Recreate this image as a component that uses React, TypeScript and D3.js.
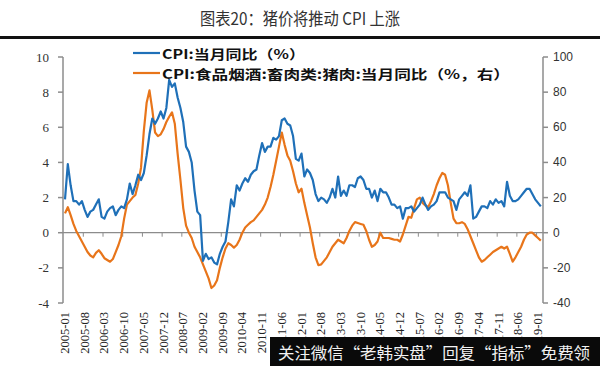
import * as d3 from 'd3';

// monthly values from 2005-01 to 2019-02
const START_YEAR = 2005;

const cpi = [
  1.9, 3.9, 2.7, 1.8, 1.8, 1.6, 1.8, 1.3, 0.9, 1.2, 1.3, 1.6,
  1.9, 0.9, 0.8, 1.2, 1.4, 1.5, 1.0, 1.3, 1.5, 1.4, 1.9, 2.8,
  2.2, 2.7, 3.3, 3.0, 3.4, 4.4, 5.6, 6.5, 6.2, 6.5, 6.9, 6.5,
  7.1, 8.7, 8.3, 8.5, 7.7, 7.1, 6.3, 4.9, 4.6, 4.0, 2.4, 1.2,
  1.0, -1.6, -1.2, -1.5, -1.4, -1.7, -1.8, -1.2, -0.8, -0.5, 0.6, 1.9,
  1.5, 2.7, 2.4, 2.8, 3.1, 2.9, 3.3, 3.5, 3.6, 4.4, 5.1, 4.6,
  4.9, 4.9, 5.4, 5.3, 5.5, 6.4, 6.5, 6.2, 6.1, 5.5, 4.2, 4.1,
  4.5, 3.2, 3.6, 3.4, 3.0, 2.2, 1.8, 2.0, 1.9, 1.7, 2.0, 2.5,
  2.0, 3.2, 2.1, 2.4, 2.1, 2.7, 2.7, 2.6, 3.1, 3.2, 3.0, 2.5,
  2.5, 2.0, 2.4, 1.8, 2.5, 2.3, 2.3, 2.0, 1.6, 1.6, 1.4, 1.5,
  0.8, 1.4, 1.4, 1.5, 1.2, 1.4, 1.6, 2.0, 1.6, 1.3, 1.5, 1.6,
  1.8, 2.3, 2.3, 2.3, 2.0, 1.9, 1.8, 1.3, 1.9, 2.1, 2.3, 2.1,
  2.7, 0.8, 0.9, 1.2, 1.5, 1.5, 1.4, 1.8, 1.6, 1.9, 1.7, 1.8,
  1.5, 2.9, 2.1, 1.8, 1.8, 1.9, 2.1, 2.3, 2.5, 2.5, 2.2, 1.9,
  1.7, 1.5,
];

const pork = [
  11, 14.5, 10, 5, 1, -2, -5, -8, -11, -13, -14, -11.5,
  -10, -12, -14.5, -15.5, -16.5, -15, -11, -7, -2, 8, 16, 18,
  20, 21.5, 28, 37, 58, 74, 81, 70, 57, 55, 56, 59,
  63, 66, 68.5, 62, 45, 30, 14, 4, 0, -3, -8, -11,
  -14, -18, -22, -26, -31.5, -30, -27, -20, -14, -9, -6, -7,
  -8.5, -7, -4, 0, 3, 4.5, 6, 7, 9, 11, 13, 16,
  20, 26, 33, 41, 49, 57, 50, 44, 41, 35, 28, 23,
  25, 17, 10, 3, -6, -14, -18.5, -18, -16, -14, -11, -8,
  -6, -4, -5, -6, -3, 1, 4, 6, 5.5, 5, 4.5, 1,
  -4, -8, -7, -5, 0, -3, -3, -3, -3.5, -4, -4, -5,
  -1, 4, 9, 8.5, 14, 19, 20, 17, 15.5, 14.5, 18, 22,
  27, 31, 34, 33, 27, 17, 8, 5.5, 5.4, 6, 5, 2,
  -2, -6, -10, -14, -16.5, -15.5, -14, -12.5, -11, -10, -9, -8,
  -9, -8, -12, -16.5, -14, -11, -8, -4, -1, 0, 0, -1.5,
  -3, -4.5,
];

const xTickLabels = [
  '2005-01', '2005-08', '2006-03', '2006-10', '2007-05', '2007-12', '2008-07',
  '2009-02', '2009-09', '2010-04', '2010-11', '2011-06', '2012-01', '2012-08',
  '2013-03', '2013-10', '2014-05', '2014-12', '2015-07', '2016-02', '2016-09',
  '2017-04', '2017-11', '2018-06', '2019-01',
];

const leftTicks = [-4, -2, 0, 2, 4, 6, 8, 10];
const rightTicks = [-40, -20, 0, 20, 40, 60, 80, 100];

const title = '图表20：猪价将推动 CPI 上涨';
const legendCpi = 'CPI:当月同比（%）';
const legendPork = 'CPI:食品烟酒:畜肉类:猪肉:当月同比（%，右）';
const watermark = '关注微信“老韩实盘”回复“指标”免费领';

const BLUE = '#1f70b8';
const ORANGE = '#e8751a';
const AXIS = '#8c8c8c';

const monthIndex = (label: string) => {
  const [y, m] = label.split('-').map(Number);
  return (y - START_YEAR) * 12 + (m - 1);
};

export default function App() {
  const left = 63;
  const right = 543;
  const top = 57;
  const bottom = 303;

  const x = d3.scaleLinear().domain([0, 168]).range([65, 538]);
  const yL = d3.scaleLinear().domain([-4, 10]).range([bottom, top]);
  const yR = d3.scaleLinear().domain([-40, 100]).range([bottom, top]);

  const cpiLine = d3.line<number>().x((_, i) => x(i)).y(d => yL(d));
  const porkLine = d3.line<number>().x((_, i) => x(i)).y(d => yR(d));

  const zeroY = yL(0);

  return (
    <div style={{ position: 'absolute', left: 0, top: 0 }}>
      <svg width={600} height={366} style={{ display: 'block', background: '#fff' }}>
        <text x={300} y={25} textAnchor="middle" fontFamily="'Noto Sans CJK SC'" fontWeight={400}
          fontSize={17} fill="#333" textLength={200} lengthAdjust="spacingAndGlyphs">{title}</text>
        <rect x={0} y={36} width={600} height={3} fill="#111" />

        {/* zero line with ticks */}
        <line x1={left} x2={right} y1={zeroY} y2={zeroY} stroke={AXIS} strokeWidth={1.2} />
        {xTickLabels.slice(1).map(l => {
          const tx = x(monthIndex(l) - 0.5);
          return <line key={l} x1={tx} x2={tx} y1={zeroY} y2={zeroY + 4} stroke={AXIS} strokeWidth={1} />;
        })}

        {/* left axis */}
        <line x1={left} x2={left} y1={top} y2={bottom} stroke={AXIS} strokeWidth={1.5} />
        {leftTicks.map(t => (
          <g key={t}>
            <line x1={left - 5} x2={left} y1={yL(t)} y2={yL(t)} stroke={AXIS} strokeWidth={1.5} />
            <text x={49} y={yL(t)} textAnchor="end" dominantBaseline="central"
              fontFamily="'Liberation Serif'" fontSize={13} fill="#333">{t}</text>
          </g>
        ))}

        {/* right axis */}
        <line x1={right} x2={right} y1={top} y2={bottom} stroke={AXIS} strokeWidth={1.5} />
        {rightTicks.map(t => (
          <g key={t}>
            <line x1={right} x2={right + 5} y1={yR(t)} y2={yR(t)} stroke={AXIS} strokeWidth={1.5} />
            <text x={553} y={yR(t)} dominantBaseline="central"
              fontFamily="'Liberation Sans'" fontSize={12} fill="#333">{t}</text>
          </g>
        ))}

        {/* x labels */}
        {xTickLabels.map(l => {
          const lx = x(monthIndex(l));
          return (
            <text key={l} transform={`translate(${lx},312) rotate(-90)`} textAnchor="end"
              dominantBaseline="central" fontFamily="'Liberation Serif'" fontSize={12.5} fill="#222">{l}</text>
          );
        })}

        {/* series */}
        <path d={porkLine(pork) ?? ''} fill="none" stroke={ORANGE} strokeWidth={2.2} strokeLinejoin="round" />
        <path d={cpiLine(cpi) ?? ''} fill="none" stroke={BLUE} strokeWidth={2.2} strokeLinejoin="round" />

        {/* legend */}
        <line x1={133} x2={160} y1={53} y2={53} stroke={BLUE} strokeWidth={2.2} />
        <text x={162} y={53} dominantBaseline="central" fontFamily="'Noto Sans CJK SC'" fontWeight={700}
          fontSize={13} fill="#111" textLength={143} lengthAdjust="spacingAndGlyphs">{legendCpi}</text>
        <line x1={133} x2={160} y1={73} y2={73} stroke={ORANGE} strokeWidth={2.2} />
        <text x={162} y={73} dominantBaseline="central" fontFamily="'Noto Sans CJK SC'" fontWeight={700}
          fontSize={13} fill="#111" textLength={348} lengthAdjust="spacingAndGlyphs">{legendPork}</text>

        {/* watermark */}
        <rect x={270} y={337} width={330} height={29} fill="#0a0a0a" />
        <text x={278} y={352} dominantBaseline="central" fontFamily="'Noto Sans CJK SC'" fontSize={16}
          fill="#f2f2f2" textLength={312} lengthAdjust="spacingAndGlyphs">{watermark}</text>
      </svg>
    </div>
  );
}
